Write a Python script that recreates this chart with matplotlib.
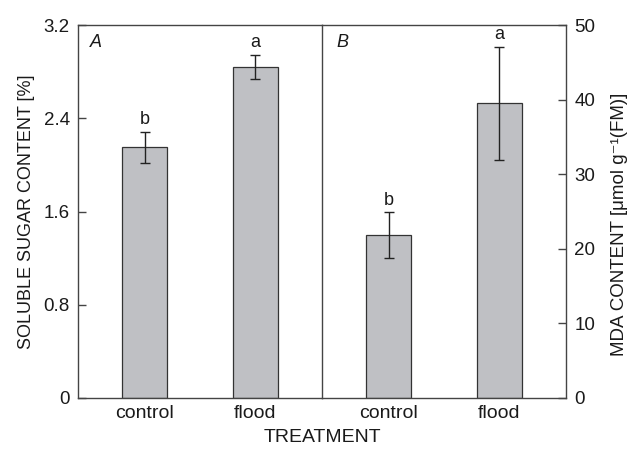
import matplotlib
matplotlib.use("Agg")
import matplotlib.pyplot as plt
import numpy as np

plt.rcParams["font.family"] = ["Liberation Sans", "DejaVu Sans"]

# data
treatments = ["control", "flood"]
sugar = [2.15, 2.84]
sugar_err = [0.13, 0.10]
sugar_letters = ["b", "a"]
mda = [21.8, 39.5]
mda_err = [3.1, 7.6]
mda_letters = ["b", "a"]

bar_color = "#bfc0c4"
edge = "#333333"
axis_col = "#444444"
txt = "#1a1a1a"

fig = plt.figure(figsize=(6.28, 4.5), dpi=100)
ax1 = fig.add_axes([78 / 628, 1 - 398 / 450, 244 / 628, 373 / 450])
ax2 = fig.add_axes([322 / 628, 1 - 398 / 450, 244 / 628, 373 / 450])

x = np.array([0.0, 1.0])
xlim = (-0.6, 1.6)

def draw(ax, vals, errs, letters, ymax, off):
    ax.bar(x, vals, width=0.4, color=bar_color, edgecolor=edge, linewidth=0.9, zorder=2)
    ax.errorbar(x, vals, yerr=errs, fmt="none", ecolor="#222222", elinewidth=1.0,
                capsize=3.5, capthick=1.0, zorder=3)
    for xi, v, e, l in zip(x, vals, errs, letters):
        ax.text(xi, v + e + off, l, ha="center", va="bottom", fontsize=13, color=txt)
    ax.set_xlim(*xlim)
    ax.set_ylim(0, ymax)
    ax.set_xticks(x)
    ax.set_xticklabels(treatments, fontsize=14)
    ax.tick_params(axis="x", length=0, pad=5, colors=txt)
    for s in ax.spines.values():
        s.set_color(axis_col)
        s.set_linewidth(1.0)

draw(ax1, sugar, sugar_err, sugar_letters, 3.2, 0.04)
ax1.set_yticks([0, 0.8, 1.6, 2.4, 3.2])
ax1.set_yticklabels(["0", "0.8", "1.6", "2.4", "3.2"])
ax1.tick_params(axis="y", direction="in", length=6, width=1, colors=axis_col,
                labelcolor=txt, labelsize=13.5, pad=6)
ax1.spines["right"].set_visible(False)
ax1.set_ylabel("SOLUBLE SUGAR CONTENT [%]", fontsize=13, color=txt, labelpad=6)
ax1.text(0.05, 0.975, "A", transform=ax1.transAxes, fontsize=13, style="italic",
         ha="left", va="top", color=txt)

draw(ax2, mda, mda_err, mda_letters, 50, 0.5)
ax2.set_yticks([0, 10, 20, 30, 40, 50])
ax2.yaxis.tick_right()
ax2.tick_params(axis="y", direction="in", length=6, width=1, colors=axis_col,
                labelcolor=txt, labelsize=13.5, pad=6)
ax2.text(0.06, 0.975, "B", transform=ax2.transAxes, fontsize=13, style="italic",
         ha="left", va="top", color=txt)

# right axis label, placed by hand so it stays inside the figure
fig.text(620 / 628, 1 - 224 / 450, "MDA CONTENT [μmol g⁻¹(FM)]", rotation=90,
         ha="center", va="center", fontsize=13.5, color=txt)

fig.text(322 / 628, 1 - 438 / 450, "TREATMENT", ha="center", va="center",
         fontsize=14, color=txt)

fig.savefig("out.png", dpi=100)
